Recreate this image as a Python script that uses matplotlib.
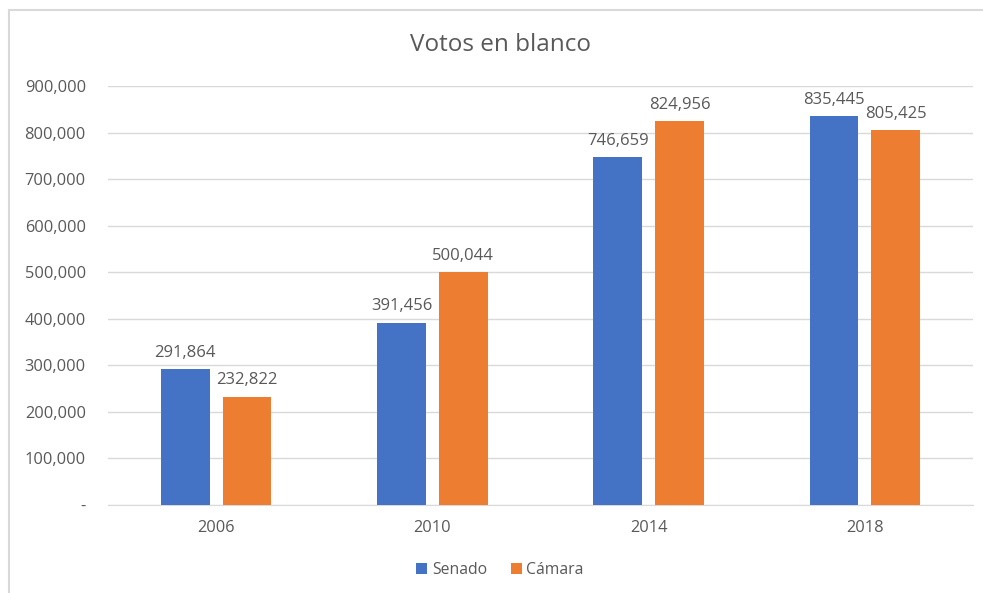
import numpy as np
import matplotlib.pyplot as plt
from matplotlib.patches import Rectangle
from matplotlib.ticker import FuncFormatter

plt.rcParams['font.family'] = ['Open Sans', 'DejaVu Sans']

# Data
years = ['2006', '2010', '2014', '2018']
senado = [291864, 391456, 746659, 835445]
camara = [232822, 500044, 824956, 805425]

blue = '#4472C4'
orange = '#ED7D31'
text_col = '#595959'
grid_col = '#D9D9D9'

fig = plt.figure(figsize=(9.83, 5.93), dpi=100)

# chart frame (cut off on the right and bottom like the screenshot)
fig.patches.append(Rectangle((9 / 983, -0.05), 1.1, 1 - 10 / 593 + 0.05,
                             transform=fig.transFigure, fill=False,
                             edgecolor='#D9D9D9', linewidth=1.5))

ax = fig.add_axes([108 / 983, 1 - 505 / 593, (973 - 108) / 983, (505 - 86) / 593])

x = np.arange(len(years))
w = 0.226
off = 0.143
b1 = ax.bar(x - off, senado, w, color=blue, zorder=3, label='Senado')
b2 = ax.bar(x + off, camara, w, color=orange, zorder=3, label='Cámara')

for bars in (b1, b2):
    for r in bars:
        ax.annotate(f'{int(r.get_height()):,}', (r.get_x() + r.get_width() / 2, r.get_height()),
                    xytext=(0, 6), textcoords='offset points', ha='center', va='bottom',
                    fontsize=12, color=text_col)

ax.set_xlim(-0.5, len(years) - 0.5)
ax.set_ylim(0, 900000)
ax.set_yticks(np.arange(0, 900001, 100000))
ax.yaxis.set_major_formatter(FuncFormatter(lambda v, p: '-' if v == 0 else f'{int(v):,}'))
ax.set_xticks(x)
ax.set_xticklabels(years)

ax.grid(axis='y', color=grid_col, linewidth=1, zorder=0)
for s in ['top', 'right', 'left']:
    ax.spines[s].set_visible(False)
ax.spines['bottom'].set_color(grid_col)
ax.tick_params(axis='both', length=0, labelsize=11.8, colors=text_col)
ax.tick_params(axis='y', pad=16)
ax.tick_params(axis='x', pad=11)

fig.text(500 / 983, 1 - 45 / 593, 'Votos en blanco', ha='center', va='center',
         fontsize=17.5, color=text_col)

fig.legend(handles=[b1, b2], loc='center', bbox_to_anchor=(500 / 983, 1 - 570 / 593),
           ncol=2, frameon=False, fontsize=11.3, labelcolor=text_col,
           handlelength=0.7, handleheight=0.7, handletextpad=0.3, columnspacing=1.5)

fig.savefig('out.png', dpi=100)
